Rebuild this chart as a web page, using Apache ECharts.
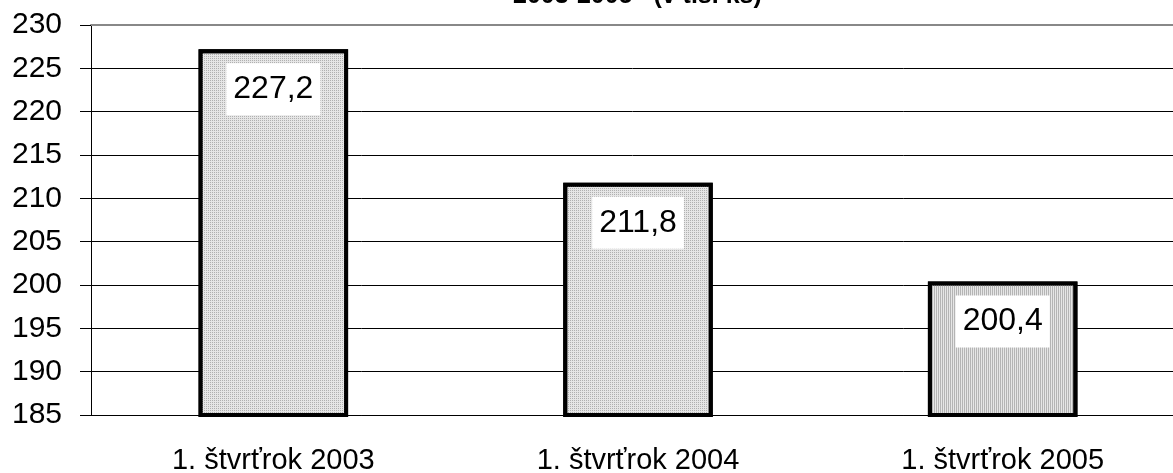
<!DOCTYPE html>
<html>
<head>
<meta charset="utf-8">
<script src="https://cdn.jsdelivr.net/npm/echarts@6/dist/echarts.min.js"></script>
<style>
  html, body { margin: 0; padding: 0; background: #fff; }
  #main { width: 1173px; height: 473px; }
</style>
</head>
<body>
<div id="main"></div>
<script>
let categories = ['1. štvrťrok 2003', '1. štvrťrok 2004', '1. štvrťrok 2005'];
let values = [227.2, 211.8, 200.4];
let yTicks = { min: 185, max: 230, step: 5 };

let font = 'Liberation Sans, Arial, sans-serif';
let dotted = { symbol: 'rect', symbolSize: 1, dashArrayX: [1, 1], dashArrayY: [1, 1], color: '#b0b0b0' };
let striped = { symbol: 'rect', symbolSize: 1, dashArrayX: [1, 1], dashArrayY: [8, 0], color: '#b4b4b4' };
let patterns = [dotted, dotted, striped];

let chart = echarts.init(document.getElementById('main'));
let option = {
  animation: false,
  backgroundColor: '#fff',
  title: {
    text: '2003-2005   (v tis. ks)',
    left: 513,
    top: -16,
    padding: 0,
    textStyle: { fontFamily: font, fontSize: 25, fontWeight: 'bold', color: '#000' }
  },
  // the plot runs a little past the right edge of the picture
  grid: { left: 91, top: 25, right: -12, bottom: 58, outerBoundsMode: 'none' },
  xAxis: [{
    type: 'category',
    data: categories,
    axisLine: { lineStyle: { color: '#000', width: 1 } },
    axisTick: { show: false },
    axisLabel: { margin: 31, color: '#000', fontFamily: font, fontSize: 29 }
  }, {
    type: 'category',
    position: 'top',
    data: categories,
    axisLine: { lineStyle: { color: '#888', width: 2 } },
    axisTick: { show: false },
    axisLabel: { show: false }
  }],
  yAxis: {
    type: 'value',
    min: yTicks.min,
    max: yTicks.max,
    interval: yTicks.step,
    axisLine: { show: true, lineStyle: { color: '#000', width: 1 } },
    axisTick: { show: true, length: 11, lineStyle: { color: '#000' } },
    axisLabel: { margin: 29, color: '#000', fontFamily: font, fontSize: 30 },
    splitLine: { lineStyle: { color: '#000', width: 1 } }
  },
  series: [{
    type: 'bar',
    barWidth: '41%',
    data: values.map((v, i) => ({
      value: v,
      itemStyle: { decal: patterns[i] }
    })),
    itemStyle: { color: '#e6e6e6', borderColor: '#000', borderWidth: 4 },
    label: {
      show: true,
      position: 'insideTop',
      distance: 14,
      formatter: p => String(p.value).replace('.', ','),
      backgroundColor: '#fff',
      padding: [10, 7],
      color: '#000',
      fontFamily: font,
      fontSize: 32
    }
  }]
};
chart.setOption(option);
</script>
</body>
</html>
